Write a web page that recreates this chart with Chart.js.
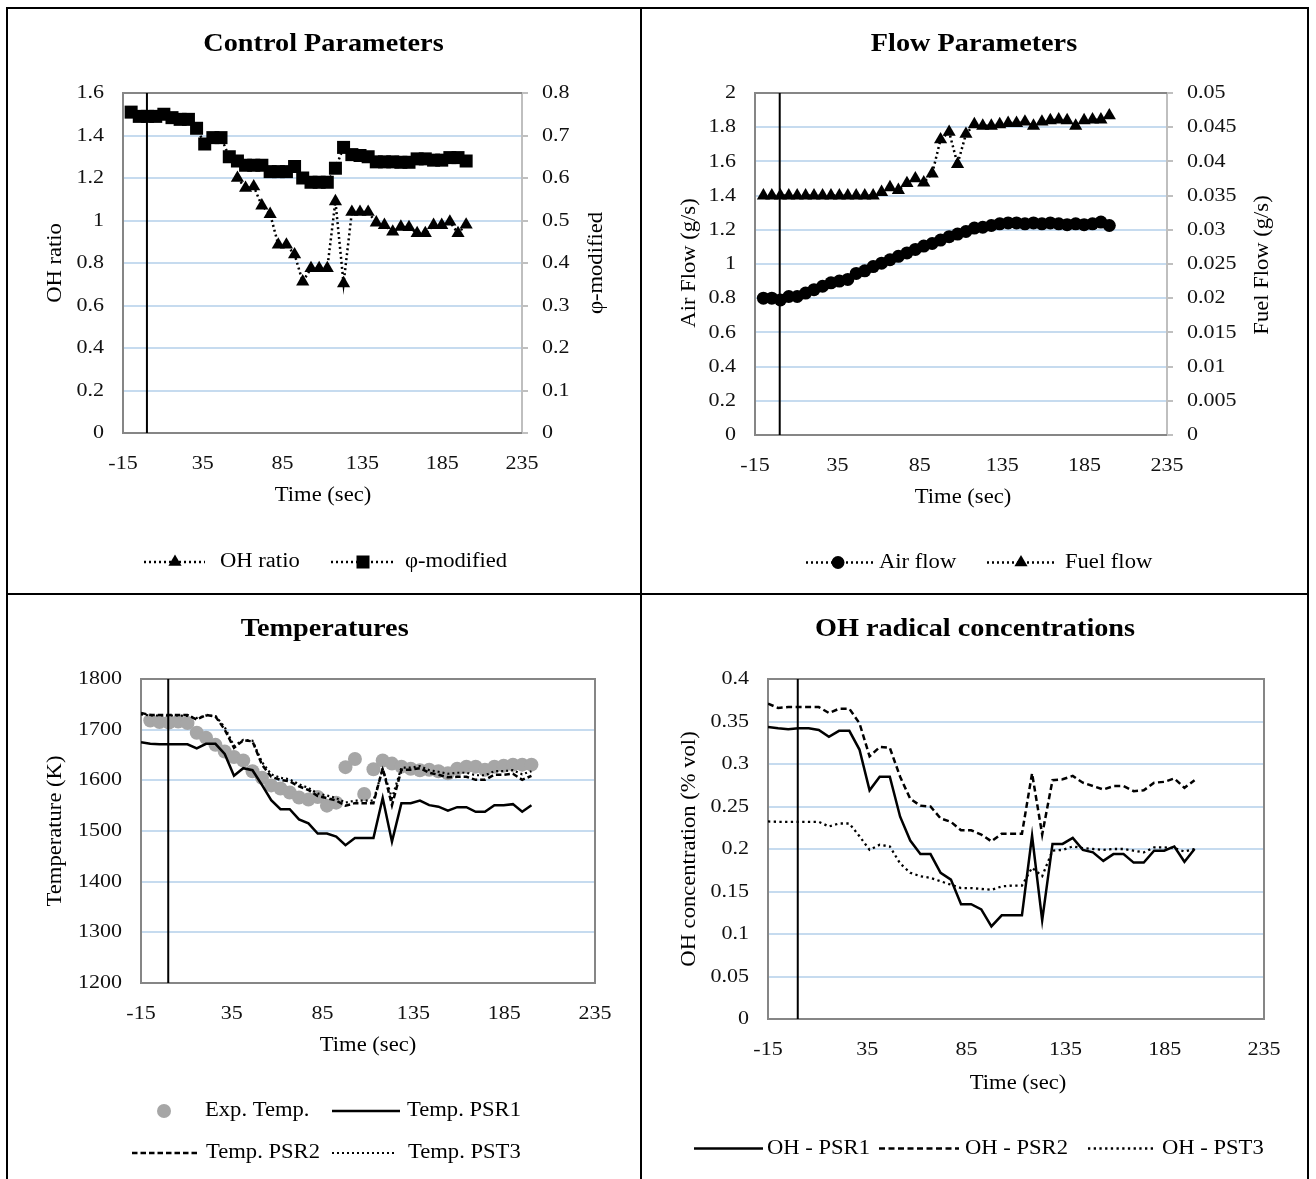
<!DOCTYPE html>
<html>
<head>
<meta charset="utf-8">
<title>Control, flow, temperature and OH radical charts</title>
<script src="https://cdn.jsdelivr.net/npm/chart.js@4.4.1/dist/chart.umd.min.js"></script>
<style>
  body { margin: 0; background: #fff; }
  #sheet { position: relative; width: 1316px; height: 1179px; overflow: hidden; background: #fff; }
  #sheet canvas { position: absolute; }
  .rule { position: absolute; background: #000; }
</style>
</head>
<body>
<div id="sheet">
  <canvas id="controlChart"></canvas>
  <canvas id="flowChart"></canvas>
  <canvas id="tempChart"></canvas>
  <canvas id="ohChart"></canvas>
  <div class="rule" style="left:6px;top:7px;width:2px;height:1172px"></div>
  <div class="rule" style="left:640px;top:7px;width:2px;height:1172px"></div>
  <div class="rule" style="left:1307px;top:7px;width:2px;height:1172px"></div>
  <div class="rule" style="left:6px;top:7px;width:1303px;height:2px"></div>
  <div class="rule" style="left:6px;top:593px;width:1303px;height:2px"></div>
</div>
<script>
// sample times (sec), shared by every series
const time = [-15, -9.9, -4.8, 0.4, 5.5, 10.6, 15.7, 20.8, 26, 31.1, 36.2, 41.3, 46.4, 51.6, 56.7,
  61.8, 66.9, 72, 77.2, 82.3, 87.4, 92.5, 97.6, 102.8, 107.9, 113, 118.1, 123.2, 128.4, 133.5,
  138.6, 143.7, 148.8, 154, 159.1, 164.2, 169.3, 174.4, 179.6, 184.7, 189.8, 194.9, 200];
const timeRange = [-15, 235, 50];   // min, max, step
const startTime = 0;                // black vertical marker

// Control Parameters
const ohRatio = [null, null, null, null, null, null, null, null, null, null, null, null, null, null,
  1.2, 1.153, 1.16, 1.07, 1.03, 0.886, 0.886, 0.84, 0.712, 0.775, 0.775, 0.775, 1.09, 0.704,
  1.04, 1.04, 1.04, 0.99, 0.978, 0.947, 0.97, 0.968, 0.94, 0.94, 0.978, 0.978, 0.994, 0.94, 0.98];
const phiModified = [null, 0.755, 0.745, 0.745, 0.745, 0.75, 0.742, 0.738, 0.738, 0.717, 0.68,
  0.695, 0.695, 0.65, 0.64, 0.63, 0.63, 0.63, 0.615, 0.615, 0.615, 0.627, 0.6, 0.59, 0.59, 0.59,
  0.623, 0.672, 0.655, 0.653, 0.65, 0.638, 0.638, 0.638, 0.637, 0.637, 0.645, 0.645, 0.642,
  0.642, 0.648, 0.648, 0.64];
const ohRatioRange = [0, 1.6, 0.2];
const phiRange = [0, 0.8, 0.1];

// Flow Parameters
const airFlow = [null, 0.8, 0.8, 0.79, 0.81, 0.81, 0.83, 0.85, 0.87, 0.89, 0.9, 0.91, 0.945, 0.96,
  0.985, 1.005, 1.025, 1.045, 1.065, 1.085, 1.105, 1.12, 1.14, 1.16, 1.175, 1.19, 1.21, 1.215,
  1.225, 1.235, 1.24, 1.24, 1.235, 1.24, 1.235, 1.24, 1.235, 1.23, 1.235, 1.23, 1.235, 1.245, 1.225];
const fuelFlow = [null, 0.035, 0.035, 0.035, 0.035, 0.035, 0.035, 0.035, 0.035, 0.035, 0.035,
  0.035, 0.035, 0.035, 0.035, 0.0355, 0.0362, 0.0358, 0.0368, 0.0375, 0.0369, 0.0382, 0.0432,
  0.0443, 0.0396, 0.044, 0.0454, 0.0452, 0.0452, 0.0454, 0.0456, 0.0456, 0.0458, 0.0452, 0.0458,
  0.046, 0.0461, 0.046, 0.0452, 0.046, 0.0461, 0.0461, 0.0467];
const airRange = [0, 2, 0.2];
const fuelRange = [0, 0.05, 0.005];

// Temperatures (K)
const expTemp = [null, 1718, 1715, 1714, 1716, 1713, 1694, 1684, 1670, 1657, 1646, 1639, 1618,
  1605, 1590, 1584, 1576, 1566, 1562, 1567, 1550, 1556, 1626, 1642, 1573, 1622, 1639, 1633, 1627,
  1623, 1620, 1621, 1618, 1614, 1623, 1627, 1627, 1621, 1627, 1629, 1631, 1631, 1631];
const tempPSR1 = [1675, 1672, 1671, 1671, 1671, 1671, 1663, 1672, 1672, 1652, 1609, 1624, 1620,
  1591, 1561, 1543, 1543, 1523, 1515, 1495, 1495, 1489, 1472, 1486, 1486, 1486, 1565, 1479, 1555,
  1555, 1560, 1551, 1548, 1540, 1547, 1547, 1538, 1538, 1551, 1551, 1553, 1538, 1551];
const tempPSR2 = [1733, 1729, 1729, 1729, 1729, 1729, 1720, 1729, 1726, 1700, 1664, 1679, 1677,
  1631, 1607, 1601, 1598, 1588, 1581, 1569, 1565, 1560, 1550, 1555, 1555, 1555, 1624, 1551, 1621,
  1621, 1624, 1615, 1611, 1606, 1607, 1607, 1601, 1601, 1611, 1611, 1613, 1601, 1609];
const tempPST3 = [1730, 1728, 1728, 1728, 1728, 1727, 1723, 1728, 1727, 1705, 1668, 1680, 1678,
  1636, 1612, 1605, 1602, 1592, 1585, 1574, 1570, 1565, 1556, 1560, 1560, 1560, 1622, 1565, 1625,
  1625, 1628, 1620, 1617, 1613, 1615, 1615, 1610, 1610, 1618, 1618, 1620, 1612, 1618];
const tempRange = [1200, 1800, 100];

// OH radical concentrations (% vol)
const ohPSR1 = [0.3435, 0.342, 0.341, 0.342, 0.342, 0.34, 0.332, 0.339, 0.339, 0.317, 0.269,
  0.285, 0.285, 0.238, 0.21, 0.194, 0.194, 0.172, 0.164, 0.135, 0.135, 0.129, 0.109, 0.122, 0.122,
  0.122, 0.2155, 0.116, 0.206, 0.206, 0.213, 0.199, 0.196, 0.186, 0.194, 0.194, 0.184, 0.184,
  0.198, 0.198, 0.203, 0.185, 0.2];
const ohPSR2 = [0.371, 0.366, 0.367, 0.367, 0.367, 0.367, 0.36, 0.365, 0.365, 0.348, 0.309, 0.32,
  0.319, 0.285, 0.259, 0.251, 0.25, 0.236, 0.232, 0.222, 0.222, 0.217, 0.209, 0.218, 0.218, 0.218,
  0.289, 0.217, 0.281, 0.282, 0.286, 0.278, 0.274, 0.27, 0.274, 0.274, 0.268, 0.269, 0.278, 0.279,
  0.283, 0.272, 0.281];
const ohPST3 = [0.2324, 0.232, 0.232, 0.232, 0.232, 0.232, 0.2265, 0.23, 0.23, 0.215, 0.199,
  0.205, 0.203, 0.183, 0.172, 0.168, 0.166, 0.162, 0.158, 0.154, 0.154, 0.153, 0.152, 0.156, 0.157,
  0.157, 0.178, 0.168, 0.198, 0.199, 0.203, 0.201, 0.2, 0.199, 0.2, 0.2, 0.198, 0.196, 0.202,
  0.202, 0.201, 0.197, 0.2];
const ohRange = [0, 0.4, 0.05];

const SERIF = "'Liberation Serif', 'Times New Roman', serif";
const GRID = '#c6dbef';
const FRAME = '#868686';
const AXIS2 = '#bfbfbf';
const WIDEN = 1.13;   // lettering in the source is drawn wider than plain Times
const TICK = 19.5;

const fmt = v => String(parseFloat(Number(v).toFixed(6)));
const points = ys => time.map((t, i) => ({ x: t, y: ys[i] }));

function marked(label, ys, axis, style, radius) {
  return { label, data: points(ys), yAxisID: axis, borderColor: '#000', borderWidth: 2.5,
    borderDash: [2, 3], pointStyle: style, pointRadius: radius, pointBackgroundColor: '#000',
    pointBorderWidth: 0 };
}
function plain(label, ys, dash, width) {
  return { label, data: points(ys), yAxisID: 'y', borderColor: '#000', borderWidth: width || 2.5,
    borderDash: dash, pointRadius: 0 };
}

// every text on the canvas gets stretched along its own baseline
function widenText(ctx) {
  const fill = ctx.fillText.bind(ctx);
  ctx.fillText = function (str, x, y, maxWidth) {
    ctx.save();
    ctx.translate(x, y);
    ctx.scale(WIDEN, 1);
    if (maxWidth === undefined) fill(str, 0, 0);
    else fill(str, 0, 0, maxWidth / WIDEN);
    ctx.restore();
  };
}

function decor(spec) {
  const ox = spec.cell.x, oy = spec.cell.y;
  function text(ctx, str, x, y, size, bold, rotate, align) {
    ctx.save();
    ctx.font = (bold ? 'bold ' : '') + size + 'px ' + SERIF;
    ctx.fillStyle = '#000';
    ctx.textAlign = align || 'center';
    ctx.textBaseline = 'middle';
    ctx.translate(x - ox, y - oy);
    if (rotate) ctx.rotate(-Math.PI / 2);
    ctx.fillText(str, 0, 0);
    ctx.restore();
  }
  return {
    id: 'decor',
    beforeDatasetsDraw(chart) {
      const { ctx, chartArea: a } = chart;
      ctx.save();
      ctx.strokeStyle = FRAME;
      ctx.lineWidth = 2;
      ctx.beginPath();
      ctx.moveTo(a.right, a.top);
      ctx.lineTo(a.left, a.top);
      ctx.lineTo(a.left, a.bottom);
      ctx.lineTo(a.right, a.bottom);
      if (!spec.y2) ctx.closePath();
      ctx.stroke();
      ctx.restore();
    },
    afterDraw(chart) {
      const ctx = chart.ctx;
      text(ctx, spec.title[0], spec.title[1], spec.title[2], 25, true);
      spec.axisTitles.forEach(t => text(ctx, t[0], t[1], t[2], 20, false, t[3]));
      spec.legend.forEach(it => {
        const ds = chart.data.datasets[it.ds];
        const y = it.y - oy;
        ctx.save();
        if (it.x1 != null) {
          ctx.strokeStyle = ds.borderColor;
          ctx.lineWidth = ds.borderWidth;
          ctx.setLineDash(ds.borderDash || []);
          ctx.beginPath();
          ctx.moveTo(it.x1 - ox, y);
          ctx.lineTo(it.x2 - ox, y);
          ctx.stroke();
        }
        if (it.mx != null) {
          ctx.setLineDash([]);
          ctx.fillStyle = ds.pointBackgroundColor;
          Chart.helpers.drawPoint(ctx, { pointStyle: ds.pointStyle, radius: ds.pointRadius,
            rotation: 0, borderWidth: 0 }, it.mx - ox, y);
        }
        ctx.restore();
        text(ctx, ds.label, it.tx, it.y, 20, false, false, 'left');
      });
    }
  };
}

function makeChart(spec) {
  const { cell, plot } = spec;
  const canvas = document.getElementById(spec.id);
  canvas.width = cell.w;
  canvas.height = cell.h;
  canvas.style.left = cell.x + 'px';
  canvas.style.top = cell.y + 'px';
  widenText(canvas.getContext('2d'));
  const W = cell.w, H = cell.h;
  const left = plot.l - cell.x, right = plot.r - cell.x;
  const top = plot.t - cell.y, bottom = plot.b - cell.y;
  const tickFont = { family: SERIF, size: TICK };

  const scales = {
    x: {
      type: 'linear', min: timeRange[0], max: timeRange[1],
      ticks: { stepSize: timeRange[2], padding: 19, font: tickFont, color: '#111',
        maxRotation: 0, autoSkip: false, callback: fmt },
      grid: { display: false, drawTicks: false },
      border: { display: false },
      afterFit(s) { s.height = H - bottom; }
    },
    y: {
      type: 'linear', position: 'left', min: spec.y[0], max: spec.y[1],
      ticks: { stepSize: spec.y[2], padding: 19, font: tickFont, color: '#111',
        autoSkip: false, callback: fmt },
      grid: { color: GRID, lineWidth: 2, drawTicks: false },
      border: { display: false },
      afterFit(s) { s.width = left; }
    }
  };
  if (spec.y2) {
    scales.y2 = {
      type: 'linear', position: 'right', min: spec.y2[0], max: spec.y2[1],
      ticks: { stepSize: spec.y2[2], padding: 14, font: tickFont, color: '#111',
        autoSkip: false, callback: fmt },
      grid: { drawOnChartArea: false, drawTicks: true, tickLength: 6, tickColor: AXIS2, lineWidth: 2 },
      border: { display: true, color: AXIS2, width: 2 },
      afterFit(s) { s.width = W - right; }
    };
  }

  const datasets = spec.datasets.concat([{
    label: 'start', yAxisID: 'y', order: -1,
    data: [{ x: startTime, y: spec.y[0] }, { x: startTime, y: spec.y[1] }],
    borderColor: '#000', borderWidth: 2, pointRadius: 0
  }]);

  return new Chart(canvas, {
    type: 'line',
    data: { datasets },
    options: {
      responsive: false,
      animation: false,
      events: [],
      layout: { padding: { left: 0, top: top, right: spec.y2 ? 0 : W - right, bottom: 0 } },
      plugins: { legend: { display: false }, title: { display: false }, tooltip: { enabled: false } },
      scales
    },
    plugins: [decor(spec)]
  });
}

makeChart({
  id: 'controlChart',
  cell: { x: 8, y: 9, w: 632, h: 584 },
  plot: { l: 123, r: 522, t: 93, b: 433 },
  y: ohRatioRange, y2: phiRange,
  datasets: [
    marked('OH ratio', ohRatio, 'y', 'triangle', 7.6),
    marked('φ-modified', phiModified, 'y2', 'rect', 9.2)
  ],
  title: ['Control Parameters', 323.5, 45],
  axisTitles: [['OH ratio', 55.5, 263, true], ['φ-modified', 597, 263, true], ['Time (sec)', 323, 496]],
  legend: [
    { ds: 0, x1: 144, x2: 205, mx: 175, tx: 220, y: 562 },
    { ds: 1, x1: 331, x2: 394, mx: 363, tx: 405, y: 562 }
  ]
});

makeChart({
  id: 'flowChart',
  cell: { x: 642, y: 9, w: 665, h: 584 },
  plot: { l: 755, r: 1167, t: 93, b: 435 },
  y: airRange, y2: fuelRange,
  datasets: [
    marked('Air flow', airFlow, 'y', 'circle', 6.5),
    marked('Fuel flow', fuelFlow, 'y2', 'triangle', 7.6)
  ],
  title: ['Flow Parameters', 974, 45],
  axisTitles: [['Air Flow (g/s)', 690, 263, true], ['Fuel Flow (g/s)', 1263, 265, true], ['Time (sec)', 963, 498]],
  legend: [
    { ds: 0, x1: 806, x2: 873, mx: 838, tx: 879, y: 562.5 },
    { ds: 1, x1: 987, x2: 1054, mx: 1021, tx: 1065, y: 562.5 }
  ]
});

const expSet = { label: 'Exp. Temp.', data: points(expTemp), yAxisID: 'y', showLine: false, order: 1,
  pointStyle: 'circle', pointRadius: 7, pointBackgroundColor: '#a6a6a6', pointBorderWidth: 0,
  borderColor: '#a6a6a6' };

makeChart({
  id: 'tempChart',
  cell: { x: 8, y: 595, w: 632, h: 584 },
  plot: { l: 141, r: 595, t: 679, b: 983 },
  y: tempRange,
  datasets: [
    expSet,
    plain('Temp. PSR1', tempPSR1, []),
    plain('Temp. PSR2', tempPSR2, [5.5, 3]),
    plain('Temp. PST3', tempPST3, [2, 3], 2.2)
  ],
  title: ['Temperatures', 324.7, 630],
  axisTitles: [['Temperature (K)', 56, 831, true], ['Time (sec)', 368, 1046]],
  legend: [
    { ds: 0, mx: 164, tx: 205, y: 1111 },
    { ds: 1, x1: 332, x2: 400, tx: 407, y: 1111 },
    { ds: 2, x1: 132, x2: 198, tx: 206, y: 1153 },
    { ds: 3, x1: 332, x2: 394, tx: 408, y: 1153 }
  ]
});

makeChart({
  id: 'ohChart',
  cell: { x: 642, y: 595, w: 665, h: 584 },
  plot: { l: 768, r: 1264, t: 679, b: 1019 },
  y: ohRange,
  datasets: [
    plain('OH - PSR1', ohPSR1, []),
    plain('OH - PSR2', ohPSR2, [6, 3.5]),
    plain('OH - PST3', ohPST3, [2.3, 3.4], 2.3)
  ],
  title: ['OH radical concentrations', 975, 630],
  axisTitles: [['OH concentration (% vol)', 690, 849, true], ['Time (sec)', 1018, 1084]],
  legend: [
    { ds: 0, x1: 694, x2: 763, tx: 767, y: 1148.5 },
    { ds: 1, x1: 879, x2: 959, tx: 965, y: 1148.5 },
    { ds: 2, x1: 1088, x2: 1153, tx: 1162, y: 1148.5 }
  ]
});
</script>
</body>
</html>
